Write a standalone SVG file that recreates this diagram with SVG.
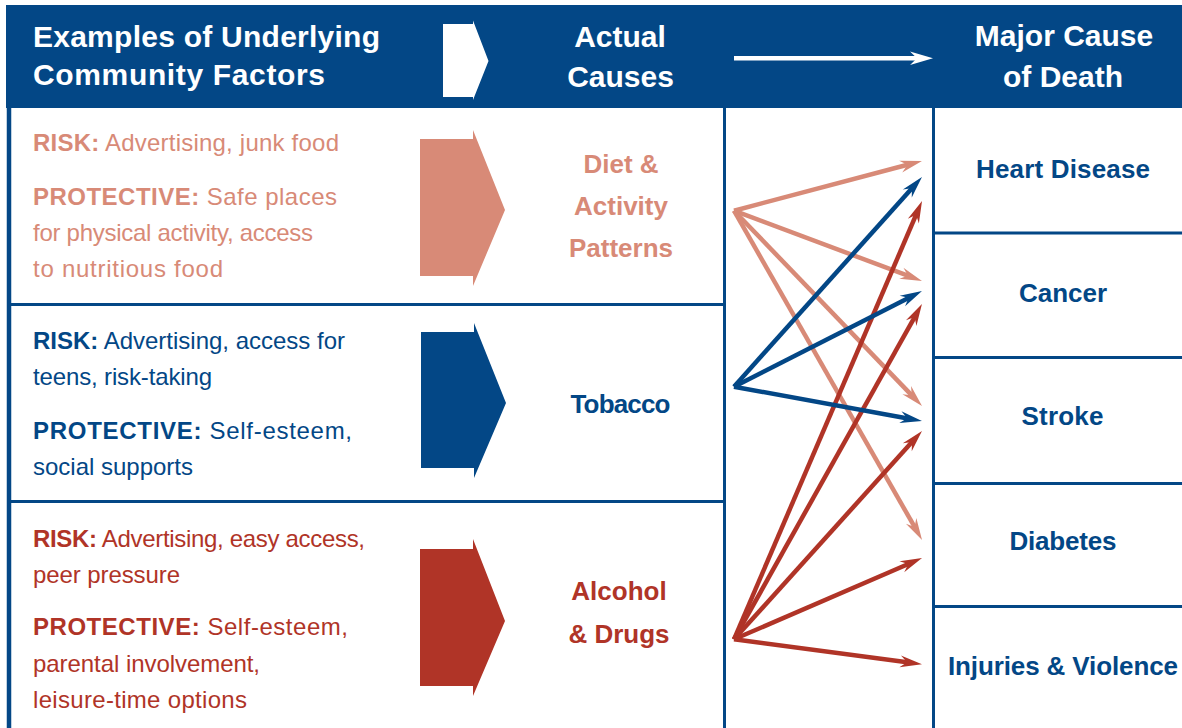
<svg xmlns="http://www.w3.org/2000/svg" width="1182" height="728" viewBox="0 0 1182 728">
<style>
.hd{font-family:"Liberation Sans",Arial,sans-serif;font-weight:bold;font-size:30px;fill:#fff}
.body{font-family:"Liberation Sans",Arial,sans-serif;font-size:24px}
.b{font-weight:bold}
.cause{font-family:"Liberation Sans",Arial,sans-serif;font-weight:bold;font-size:26px;text-anchor:middle}
.death{font-family:"Liberation Sans",Arial,sans-serif;font-weight:bold;font-size:26px;text-anchor:middle;fill:#034786}
.sal{fill:#d88a77}
.blu{fill:#034786}
.red{fill:#b03427}
.grid{stroke:#034786;stroke-width:3;fill:none}
.cs{stroke:#d88a77;stroke-width:4.5;fill:none;marker-end:url(#ms)}
.cb{stroke:#034786;stroke-width:4.5;fill:none;marker-end:url(#mb)}
.cr{stroke:#b03427;stroke-width:4.5;fill:none;marker-end:url(#mr)}
</style>
<defs>
<marker id="ms" markerUnits="userSpaceOnUse" viewBox="-10 -7 24 14" refX="0" refY="0" markerWidth="24" markerHeight="14" orient="auto"><path d="M13,0 L-9,-6 L-2,0 L-9,6 Z" fill="#d88a77"/></marker>
<marker id="mb" markerUnits="userSpaceOnUse" viewBox="-10 -7 24 14" refX="0" refY="0" markerWidth="24" markerHeight="14" orient="auto"><path d="M13,0 L-9,-6 L-2,0 L-9,6 Z" fill="#034786"/></marker>
<marker id="mr" markerUnits="userSpaceOnUse" viewBox="-10 -7 24 14" refX="0" refY="0" markerWidth="24" markerHeight="14" orient="auto"><path d="M13,0 L-9,-6 L-2,0 L-9,6 Z" fill="#b03427"/></marker>
<marker id="mw" markerUnits="userSpaceOnUse" viewBox="-10 -8 24 16" refX="0" refY="0" markerWidth="24" markerHeight="16" orient="auto"><path d="M13,0 L-10,-6.7 L-3,0 L-10,6.7 Z" fill="#fff"/></marker>
</defs>
<rect width="1182" height="728" fill="#fff"/>

<g id="header">
<rect x="6" y="5" width="1176" height="103" fill="#034786"/>
<text class="hd" x="33" y="47" textLength="347">Examples of Underlying</text>
<text class="hd" x="33" y="85" textLength="292">Community Factors</text>
<polygon points="443,24 473,24 473,20.5 488.5,61 473,100 473,97 443,97" fill="#fff"/>
<text class="hd" x="620" y="47" text-anchor="middle">Actual</text>
<text class="hd" x="620.5" y="87" text-anchor="middle">Causes</text>
<line x1="734" y1="58.3" x2="920" y2="58.3" stroke="#fff" stroke-width="4.5" marker-end="url(#mw)"/>
<text class="hd" x="1064" y="46" text-anchor="middle">Major Cause</text>
<text class="hd" x="1063" y="87" text-anchor="middle">of Death</text>
</g>

<g id="grid">
<line class="grid" x1="9" y1="106" x2="9" y2="728" style="stroke-width:4.5"/>
<line class="grid" x1="724.5" y1="108" x2="724.5" y2="728"/>
<line class="grid" x1="933.5" y1="108" x2="933.5" y2="728"/>
<line class="grid" x1="9" y1="304.5" x2="724.5" y2="304.5"/>
<line class="grid" x1="9" y1="501.5" x2="724.5" y2="501.5"/>
<line class="grid" x1="933.5" y1="233" x2="1182" y2="233"/>
<line class="grid" x1="933.5" y1="357.5" x2="1182" y2="357.5"/>
<line class="grid" x1="933.5" y1="483.5" x2="1182" y2="483.5"/>
<line class="grid" x1="933.5" y1="606.5" x2="1182" y2="606.5"/>
</g>

<g id="factors-diet" class="body sal">
<text x="33" y="151" textLength="306"><tspan class="b">RISK:</tspan> Advertising, junk food</text>
<text x="33" y="205" textLength="304"><tspan class="b">PROTECTIVE:</tspan> Safe places</text>
<text x="33" y="241" textLength="280">for physical activity, access</text>
<text x="33" y="277" textLength="190">to nutritious food</text>
<polygon points="420,139 473,139 473,130 505,210 473,286 473,276 420,276"/>
</g>

<g id="factors-tobacco" class="body blu">
<text x="33" y="349" textLength="312"><tspan class="b">RISK:</tspan> Advertising, access for</text>
<text x="33" y="385" textLength="179">teens, risk-taking</text>
<text x="33" y="438.5" textLength="319"><tspan class="b">PROTECTIVE:</tspan> Self-esteem,</text>
<text x="33" y="475" textLength="160">social supports</text>
<polygon points="421,332 474,332 474,323 506,403 474,478 474,468 421,468"/>
</g>

<g id="factors-alcohol" class="body red">
<text x="33" y="547" textLength="332"><tspan class="b">RISK:</tspan> Advertising, easy access,</text>
<text x="33" y="582.5" textLength="147">peer pressure</text>
<text x="33" y="635" textLength="315"><tspan class="b">PROTECTIVE:</tspan> Self-esteem,</text>
<text x="33" y="671.5" textLength="227">parental involvement,</text>
<text x="33" y="708" textLength="214">leisure-time options</text>
<polygon points="420,549 473,549 473,539 505,621 473,696 473,686 420,686"/>
</g>

<g id="cause-diet" class="cause sal">
<text x="621" y="172.5">Diet &amp;</text>
<text x="621" y="214.5">Activity</text>
<text x="621" y="256.5">Patterns</text>
</g>
<g id="cause-tobacco" class="cause blu">
<text x="620.5" y="412.5" textLength="100">Tobacco</text>
</g>
<g id="cause-alcohol" class="cause red">
<text x="619" y="600">Alcohol</text>
<text x="619" y="642.5">&amp; Drugs</text>
</g>

<g id="death-heart"><text class="death" x="1063" y="178" textLength="174">Heart Disease</text></g>
<g id="death-cancer"><text class="death" x="1063" y="302" textLength="88">Cancer</text></g>
<g id="death-stroke"><text class="death" x="1062.5" y="425" textLength="82">Stroke</text></g>
<g id="death-diabetes"><text class="death" x="1063" y="550" textLength="107">Diabetes</text></g>
<g id="death-injuries"><text class="death" x="1063" y="675" textLength="230">Injuries &amp; Violence</text></g>

<g id="connectors">
<line class="cs" x1="734" y1="210.7" x2="909.4" y2="164.3"/>
<line class="cs" x1="734" y1="210.7" x2="909.8" y2="276.4"/>
<line class="cs" x1="734" y1="210.7" x2="913.0" y2="396.6"/>
<line class="cs" x1="734" y1="210.7" x2="915.6" y2="528.7"/>
<line class="cr" x1="734" y1="639.3" x2="916.9" y2="212.9"/>
<line class="cr" x1="734" y1="639.3" x2="915.6" y2="315.3"/>
<line class="cr" x1="734" y1="639.3" x2="913.3" y2="440.6"/>
<line class="cr" x1="734" y1="639.3" x2="910.1" y2="563.2"/>
<line class="cr" x1="734" y1="639.3" x2="909.1" y2="662.6"/>
<line class="cb" x1="734" y1="386.7" x2="913.3" y2="186.7"/>
<line class="cb" x1="734" y1="386.7" x2="910.4" y2="296.9"/>
<line class="cb" x1="734" y1="386.7" x2="909.2" y2="418.7"/>
</g>
</svg>
